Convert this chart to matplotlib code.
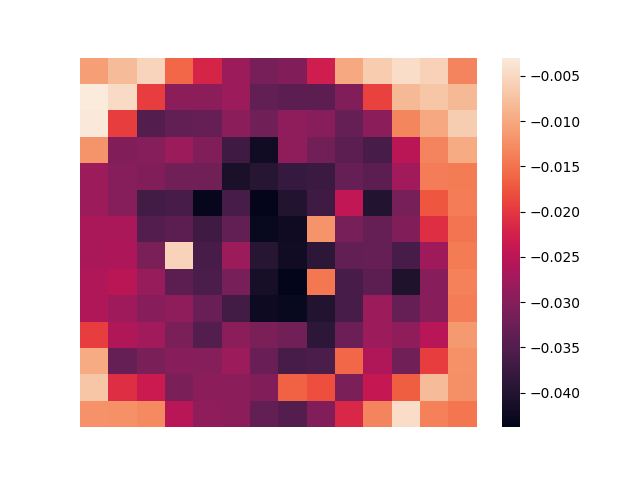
import numpy as np
import matplotlib
matplotlib.use("Agg")
import matplotlib.pyplot as plt
import seaborn as sns

# cell values, one list per row (top to bottom)
row00 = [-0.0110, -0.0080, -0.0055, -0.0160, -0.0220, -0.0280, -0.0315, -0.0305, -0.0230, -0.0100, -0.0065, -0.0045, -0.0058, -0.0135]
row01 = [-0.0030, -0.0048, -0.0195, -0.0295, -0.0295, -0.0280, -0.0335, -0.0340, -0.0340, -0.0305, -0.0190, -0.0083, -0.0070, -0.0083]
row02 = [-0.0033, -0.0195, -0.0350, -0.0335, -0.0330, -0.0295, -0.0320, -0.0290, -0.0298, -0.0330, -0.0295, -0.0133, -0.0100, -0.0063]
row03 = [-0.0120, -0.0305, -0.0300, -0.0280, -0.0305, -0.0370, -0.0420, -0.0290, -0.0320, -0.0340, -0.0360, -0.0250, -0.0135, -0.0098]
row04 = [-0.0280, -0.0300, -0.0305, -0.0320, -0.0320, -0.0410, -0.0395, -0.0380, -0.0375, -0.0330, -0.0340, -0.0275, -0.0140, -0.0142]
row05 = [-0.0280, -0.0300, -0.0365, -0.0360, -0.0432, -0.0360, -0.0435, -0.0400, -0.0370, -0.0245, -0.0400, -0.0315, -0.0175, -0.0140]
row06 = [-0.0265, -0.0265, -0.0350, -0.0340, -0.0370, -0.0335, -0.0430, -0.0422, -0.0120, -0.0315, -0.0330, -0.0305, -0.0210, -0.0148]
row07 = [-0.0265, -0.0263, -0.0310, -0.0057, -0.0360, -0.0280, -0.0395, -0.0420, -0.0390, -0.0335, -0.0330, -0.0360, -0.0278, -0.0142]
row08 = [-0.0260, -0.0250, -0.0285, -0.0340, -0.0358, -0.0315, -0.0413, -0.0438, -0.0145, -0.0360, -0.0340, -0.0405, -0.0298, -0.0137]
row09 = [-0.0260, -0.0278, -0.0298, -0.0290, -0.0328, -0.0365, -0.0425, -0.0430, -0.0400, -0.0360, -0.0280, -0.0330, -0.0298, -0.0140]
row10 = [-0.0195, -0.0260, -0.0275, -0.0310, -0.0350, -0.0295, -0.0310, -0.0320, -0.0390, -0.0325, -0.0280, -0.0290, -0.0253, -0.0115]
row11 = [-0.0098, -0.0330, -0.0310, -0.0298, -0.0300, -0.0280, -0.0328, -0.0360, -0.0358, -0.0160, -0.0260, -0.0320, -0.0195, -0.0123]
row12 = [-0.0070, -0.0210, -0.0235, -0.0310, -0.0295, -0.0293, -0.0305, -0.0165, -0.0180, -0.0310, -0.0240, -0.0168, -0.0080, -0.0125]
row13 = [-0.0122, -0.0123, -0.0130, -0.0253, -0.0290, -0.0295, -0.0335, -0.0350, -0.0305, -0.0215, -0.0135, -0.0045, -0.0138, -0.0147]

data = np.array([row00, row01, row02, row03, row04, row05, row06,
                 row07, row08, row09, row10, row11, row12, row13])

fig = plt.figure(figsize=(6.4, 4.8), dpi=100)
ax = sns.heatmap(data, xticklabels=False, yticklabels=False)

plt.savefig("out.png")
